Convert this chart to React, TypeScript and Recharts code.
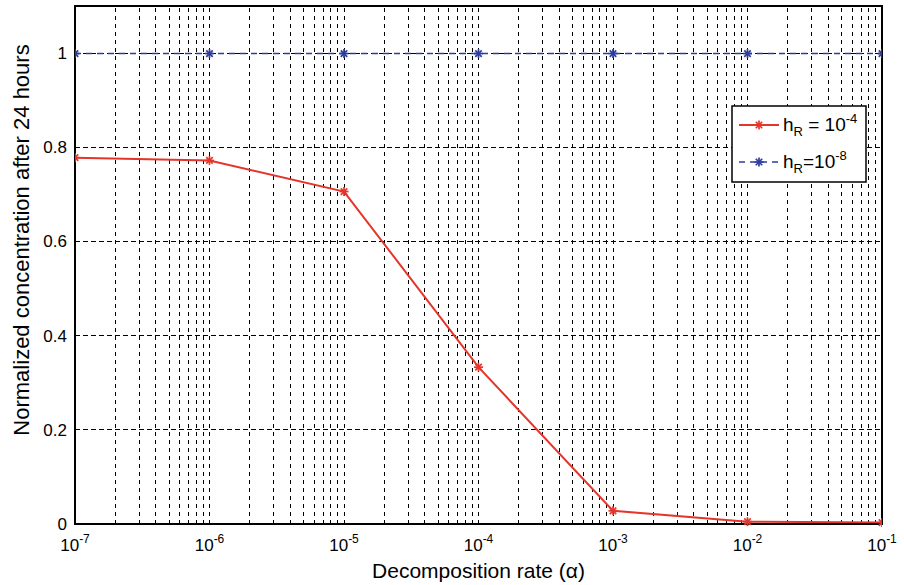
import React from 'react';
import {
  LineChart, Line, XAxis, YAxis, ReferenceLine, ReferenceArea, Label,
} from 'recharts';

// decomposition rate (alpha), log spaced
const alpha = [1e-7, 1e-6, 1e-5, 1e-4, 1e-3, 1e-2, 1e-1];
// normalized concentration after 24 h
const concHR4 = [0.778, 0.772, 0.706, 0.333, 0.028, 0.005, 0.003];
const concHR8 = [0.999, 0.999, 0.999, 0.999, 0.999, 0.999, 0.999];
const yTicks = [0, 0.2, 0.4, 0.6, 0.8, 1];
const minorSteps = [2, 3, 4, 5, 6, 7, 8, 9];

const data = alpha.map((a, i) => ({ alpha: a, hR4: concHR4[i], hR8: concHR8[i] }));

// MATLAB style log grid: every k*10^n inside the range
const vGrid = [
  ...alpha.slice(0, -1).flatMap((d) => minorSteps.map((k) => k * d)),
  ...alpha.slice(1, -1),
];
const hGrid = yTicks.slice(1);

const RED = '#e5352b';
const BLUE = '#2d3d9e';
const FONT = '"Liberation Sans", Arial, Helvetica, sans-serif';

function Star({ cx, cy, color, r = 4.5 }: any) {
  if (cx == null || cy == null) return null;
  const d = r * 0.72;
  return (
    <g stroke={color} strokeWidth={1.7}>
      <line x1={cx - r} y1={cy} x2={cx + r} y2={cy} />
      <line x1={cx} y1={cy - r} x2={cx} y2={cy + r} />
      <line x1={cx - d} y1={cy - d} x2={cx + d} y2={cy + d} />
      <line x1={cx - d} y1={cy + d} x2={cx + d} y2={cy - d} />
    </g>
  );
}

function XTick({ x, y, payload }: any) {
  const e = Math.round(Math.log10(payload.value));
  return (
    <text x={x} y={y + 19} textAnchor="middle" fontSize={17} fontFamily={FONT} fill="#000">
      <tspan>10</tspan>
      <tspan dy={-8} fontSize={12}>{String(e)}</tspan>
    </text>
  );
}

function LegendBox() {
  return (
    <svg width={136} height={78} style={{ display: 'block' }}>
      <rect x={1} y={1} width={134} height={76} fill="#fff" stroke="#000" strokeWidth={1.5} />
      <line x1={8} y1={20} x2={48} y2={20} stroke={RED} strokeWidth={2} />
      <Star cx={28} cy={20} color={RED} />
      <text x={52} y={26} fontSize={19} fontFamily={FONT} fill="#000">
        h<tspan dy={5} fontSize={13}>R</tspan>
        <tspan dy={-5}> = 10</tspan>
        <tspan dy={-8} fontSize={13}>-4</tspan>
      </text>
      <line x1={8} y1={57} x2={48} y2={57} stroke={BLUE} strokeWidth={1.6} strokeDasharray="6 5" />
      <Star cx={28} cy={57} color={BLUE} />
      <text x={52} y={63} fontSize={19} fontFamily={FONT} fill="#000">
        h<tspan dy={5} fontSize={13}>R</tspan>
        <tspan dy={-5}>=10</tspan>
        <tspan dy={-8} fontSize={13}>-8</tspan>
      </text>
    </svg>
  );
}

export default function App() {
  return (
    <div style={{ position: 'absolute', left: 0, top: 0, width: 904, height: 585, background: '#fff' }}>
      <LineChart
        width={904}
        height={585}
        data={data}
        margin={{ top: 6, right: 22, left: 0, bottom: 0 }}
        style={{ fontFamily: FONT }}
      >
        {hGrid.map((v) => (
          <ReferenceLine
            key={'h' + v}
            y={v}
            stroke="#000"
            strokeDasharray="5 3"
            strokeWidth={1}
            shapeRendering="crispEdges"
          />
        ))}
        {vGrid.map((v) => (
          <ReferenceLine
            key={'v' + v}
            x={v}
            stroke="#000"
            strokeDasharray="4 4"
            strokeWidth={1}
            shapeRendering="crispEdges"
          />
        ))}
        <XAxis
          dataKey="alpha"
          type="number"
          scale="log"
          domain={[1e-7, 1e-1]}
          ticks={alpha}
          allowDataOverflow
          height={61}
          tick={<XTick />}
          tickLine={false}
          axisLine={{ stroke: '#000', strokeWidth: 2 }}
        >
          <Label
            value="Decomposition rate (α)"
            position="insideBottom"
            offset={7}
            style={{ fontSize: 21, fill: '#000', fontFamily: FONT }}
          />
        </XAxis>
        <YAxis
          type="number"
          domain={[0, 1.1]}
          ticks={yTicks}
          width={75}
          tickLine={false}
          tick={{ fontSize: 17, fill: '#000', fontFamily: FONT }}
          axisLine={{ stroke: '#000', strokeWidth: 2 }}
        >
          <Label
            value="Normalized concentration after 24 hours"
            angle={-90}
            position="insideLeft"
            offset={21}
            dy={-25}
            style={{ fontSize: 22, fill: '#000', fontFamily: FONT, textAnchor: 'middle' }}
          />
        </YAxis>
        <ReferenceArea
          x1={1e-7}
          x2={1e-1}
          y1={0}
          y2={1.1}
          fill="none"
          stroke="#000"
          strokeWidth={2}
          ifOverflow="visible"
        />
        <Line
          dataKey="hR4"
          name="hR = 10^-4"
          stroke={RED}
          strokeWidth={2}
          dot={(p: any) => <Star key={'r' + p.index} cx={p.cx} cy={p.cy} color={RED} />}
          isAnimationActive={false}
        />
        <Line
          dataKey="hR8"
          name="hR = 10^-8"
          stroke={BLUE}
          strokeWidth={1.6}
          strokeDasharray="6 5"
          dot={(p: any) => <Star key={'b' + p.index} cx={p.cx} cy={p.cy} color={BLUE} />}
          isAnimationActive={false}
        />
      </LineChart>
      <div style={{ position: 'absolute', left: 731, top: 105 }}>
        <LegendBox />
      </div>
    </div>
  );
}
